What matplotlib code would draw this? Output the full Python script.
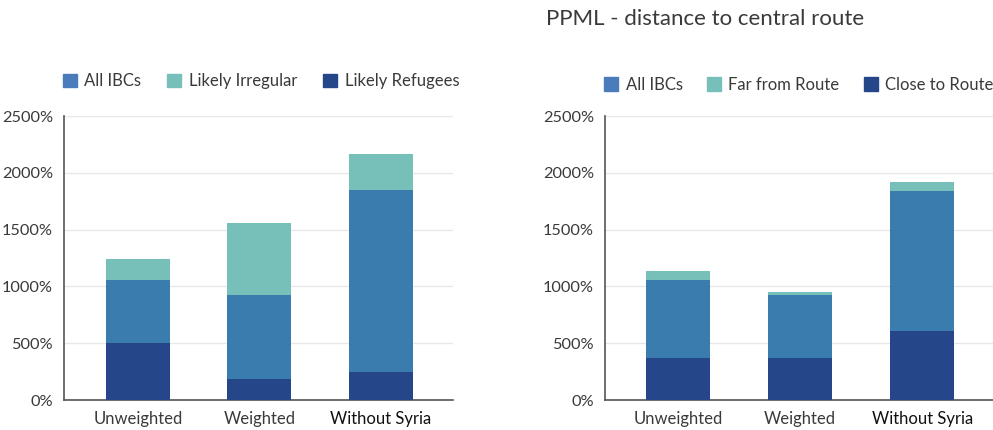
import matplotlib
matplotlib.use("Agg")
import matplotlib.pyplot as plt
from matplotlib.patches import Patch
import numpy as np

plt.rcParams['font.family'] = ['Lato', 'DejaVu Sans']

categories = ["Unweighted", "Weighted", "Without Syria"]

# Left chart (overlapping bars, values in %)
left_all_ibcs = [1056, 924, 1849]
left_irregular = [1241, 1558, 2166]
left_refugees = [502, 185, 246]

# Right chart: PPML - distance to central route
right_all_ibcs = [1056, 924, 1840]
right_far = [1136, 951, 1919]
right_close = [373, 373, 607]

title_right = "PPML - distance to central route"
yticks = [0, 500, 1000, 1500, 2000, 2500]

C_DARK = "#26468a"
C_MID = "#397cad"
C_TEAL = "#76c0b9"
C_LEG_MID = "#4a7bbb"
TXT = "#3a3a3a"

fig = plt.figure(figsize=(9.93, 4.30), dpi=100)

def draw(ax, top, mid, bot, labels, xlim, leg_y, colsp):
    x = np.arange(len(categories))
    w = 0.527
    ax.bar(x, top, width=w, color=C_TEAL, zorder=2)
    ax.bar(x, mid, width=w, color=C_MID, zorder=3)
    ax.bar(x, bot, width=w, color=C_DARK, zorder=4)
    ax.set_xlim(*xlim)
    ax.set_ylim(0, 2500)
    ax.set_yticks(yticks)
    ax.set_yticklabels([f"{v}%" for v in yticks])
    ax.set_xticks(x)
    ax.set_xticklabels(categories)
    for i, t in enumerate(ax.get_xticklabels()):
        t.set_color("#111111" if i == 2 else TXT)
    ax.tick_params(axis='y', length=0, pad=8, labelsize=11.8, labelcolor=TXT)
    ax.tick_params(axis='x', length=0, pad=8, labelsize=12)
    ax.grid(axis='y', color="#e8e8e8", linewidth=1, zorder=0)
    ax.set_axisbelow(True)
    for s in ['top', 'right']:
        ax.spines[s].set_visible(False)
    ax.spines['left'].set_color("#555555")
    ax.spines['bottom'].set_color("#555555")
    ax.spines['left'].set_linewidth(1.2)
    ax.spines['bottom'].set_linewidth(1.2)
    handles = [Patch(color=C_LEG_MID), Patch(color=C_TEAL), Patch(color=C_DARK)]
    leg = ax.legend(handles, labels, ncol=3, frameon=False,
                    loc='center left', bbox_to_anchor=(-0.003, leg_y),
                    handlelength=0.85, handleheight=0.85, handletextpad=0.45,
                    columnspacing=colsp, fontsize=12, borderaxespad=0, borderpad=0)
    for t in leg.get_texts():
        t.set_color(TXT)

ax1 = fig.add_axes([64/993, 30/430, 389/993, 284/430])
draw(ax1, left_irregular, left_all_ibcs, left_refugees,
     ["All IBCs", "Likely Irregular", "Likely Refugees"], (-0.609, 2.593), 1.122, 1.55)

ax2 = fig.add_axes([605/993, 30/430, 388/993, 284/430])
draw(ax2, right_far, right_all_ibcs, right_close,
     ["All IBCs", "Far from Route", "Close to Route"], (-0.598, 2.58), 1.11, 1.45)

fig.text(546/993, 1 - 19/430, title_right, fontsize=16, color=TXT,
         ha='left', va='center')

fig.savefig("out.png", dpi=100, facecolor="white")
